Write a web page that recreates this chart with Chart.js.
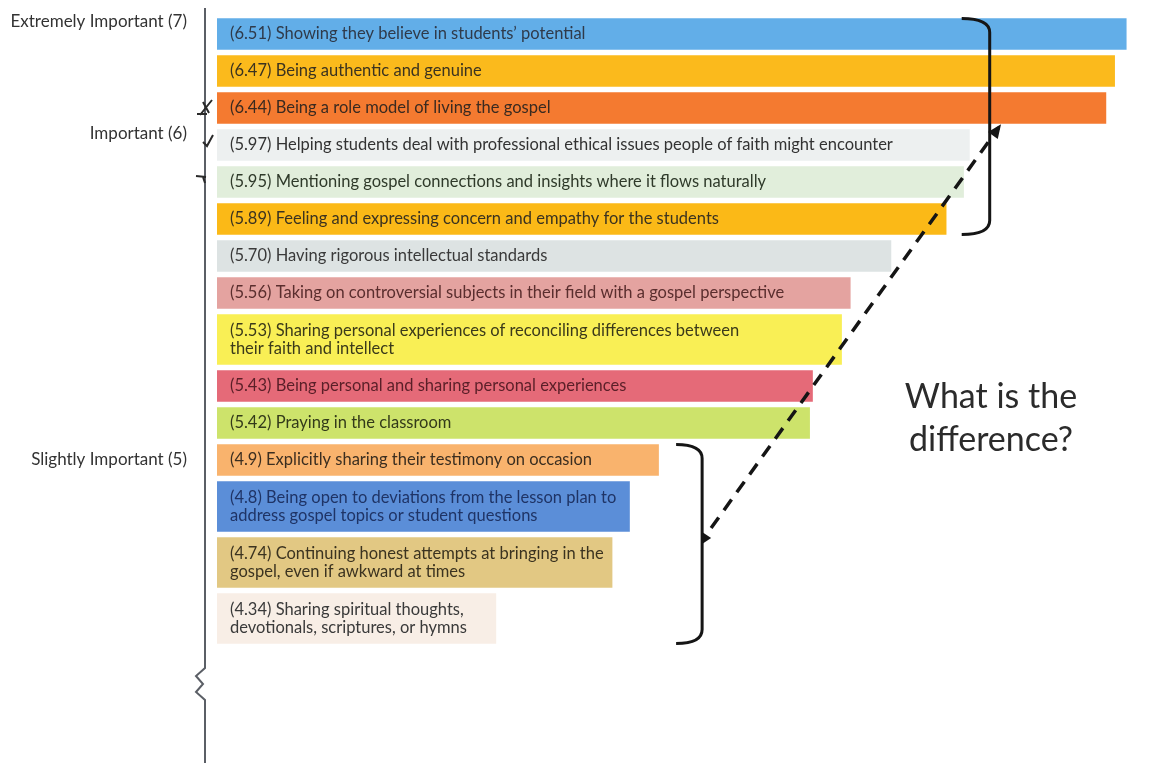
<!DOCTYPE html>
<html>
<head>
<meta charset="utf-8">
<script src="https://cdn.jsdelivr.net/npm/chart.js"></script>
<style>
  html, body { margin: 0; padding: 0; background: #fff; }
  #wrap { width: 1164px; height: 763px; }
</style>
</head>
<body>
<div id="wrap"><canvas id="myChart" width="1164" height="763"></canvas></div>
<script>
// text shown inside each bar (one entry per line)
var items = [
  ['(6.51) Showing they believe in students\u2019 potential'],
  ['(6.47) Being authentic and genuine'],
  ['(6.44) Being a role model of living the gospel'],
  ['(5.97) Helping students deal with professional ethical issues people of faith might encounter'],
  ['(5.95) Mentioning gospel connections and insights where it flows naturally'],
  ['(5.89) Feeling and expressing concern and empathy for the students'],
  ['(5.70) Having rigorous intellectual standards'],
  ['(5.56) Taking on controversial subjects in their field with a gospel perspective'],
  ['(5.53) Sharing personal experiences of reconciling differences between', 'their faith and intellect'],
  ['(5.43) Being personal and sharing personal experiences'],
  ['(5.42) Praying in the classroom'],
  ['(4.9) Explicitly sharing their testimony on occasion'],
  ['(4.8) Being open to deviations from the lesson plan to', 'address gospel topics or student questions'],
  ['(4.74) Continuing honest attempts at bringing in the', 'gospel, even if awkward at times'],
  ['(4.34) Sharing spiritual thoughts,', 'devotionals, scriptures, or hymns']
];
var scores = [6.51, 6.47, 6.44, 5.97, 5.95, 5.89, 5.70, 5.56, 5.53, 5.43, 5.42, 4.9, 4.8, 4.74, 4.34];
// importance levels on the left axis, and the row (bar index) they sit at
var levelNames = ['Extremely Important (7)', 'Important (6)', 'Slightly Important (5)'];
var levelRows = [-0.35, 2.7, 11];
var barColors = ['#62aee8', '#fbba1c', '#f47a30', '#edf0f0', '#e1eedb', '#fbb917', '#dde3e3', '#e4a3a0',
                 '#f9ef55', '#e56a78', '#cde36b', '#f9b36d', '#5b8ed8', '#e2c883', '#f8eee6'];
var textColors = ['#2f3a4a', '#3b3320', '#3a2a20', '#333333', '#2f3a2a', '#3b3320', '#3a3a3a', '#5a2e2e',
                  '#3b3a1a', '#5a1f28', '#333a1a', '#3b2e20', '#1f3466', '#3b3320', '#3a3a3a'];

var xMin = 3.38, xMax = 6.64;

// row layout: one-line rows are shorter than two-line rows
var slotOne = 37, slotExtra = 19;
var centers = [];
var acc = 0;
items.forEach(function(l) {
  var s = slotOne + slotExtra * (l.length - 1);
  centers.push(acc + s / 2);
  acc += s;
});
var total = acc;

function rowPos(r) {
  if (r <= 0) return centers[0] + r * slotOne;
  var a = Math.floor(r), b = Math.min(a + 1, centers.length - 1);
  return centers[a] + (r - a) * (centers[b] - centers[a]);
}
var levelPos = levelRows.map(rowPos);

function rowsWith(n) {
  var out = [];
  scores.forEach(function(v, i) {
    if (items[i].length === n) out.push({ x: v, y: centers[i], i: i });
  });
  return out;
}
var oneLine = rowsWith(1);
var twoLine = rowsWith(2);

var decor = {
  id: 'decor',
  afterDatasetsDraw: function(chart) {
    var c = chart.ctx;
    var area = chart.chartArea;
    var xs = chart.scales.x;
    var bars = [];
    chart.data.datasets.forEach(function(ds, d) {
      chart.getDatasetMeta(d).data.forEach(function(el, j) {
        bars[ds.data[j].i] = el;
      });
    });
    c.save();

    // vertical axis with a break
    var ax = area.left - 12;
    c.strokeStyle = '#5b5f66';
    c.lineWidth = 2;
    c.beginPath();
    c.moveTo(ax, 8);
    c.lineTo(ax, 668);
    c.lineTo(ax - 9, 676);
    c.lineTo(ax - 2, 684);
    c.lineTo(ax - 9, 692);
    c.lineTo(ax, 700);
    c.lineTo(ax, 763);
    c.stroke();

    // pen marks next to the axis
    c.strokeStyle = '#2a2a2a';
    c.lineWidth = 2;
    var m1 = bars[2].y, m2 = bars[3].y - 4, m3 = bars[4].y - 6;
    c.beginPath();
    c.moveTo(ax - 5, m1 + 7); c.lineTo(ax + 7, m1 - 8);
    c.moveTo(ax - 2, m1 - 6); c.lineTo(ax + 4, m1 + 5);
    c.moveTo(ax - 8, m1 + 6); c.lineTo(ax + 2, m1 + 6);
    c.moveTo(ax - 2, m2 + 1); c.lineTo(ax + 2, m2 + 5); c.lineTo(ax + 8, m2 - 6);
    c.moveTo(ax - 9, m3); c.lineTo(ax + 1, m3 + 1);
    c.moveTo(ax - 2, m3 + 1); c.lineTo(ax, m3 + 7);
    c.stroke();

    // text inside bars
    c.font = '16.5px Lato, "Open Sans", sans-serif';
    c.textAlign = 'left';
    c.textBaseline = 'middle';
    bars.forEach(function(bar, i) {
      var lines = items[i];
      var lh = 17.5;
      var y0 = bar.y - (lines.length - 1) * lh / 2;
      c.fillStyle = textColors[i];
      lines.forEach(function(t, k) {
        c.fillText(t, Math.max(bar.base, area.left) + 13, y0 + k * lh);
      });
    });

    // brackets
    function bracket(x, top, bottom, hook, tip) {
      c.strokeStyle = '#151515';
      c.lineWidth = 3;
      c.beginPath();
      c.moveTo(x - hook, top);
      c.quadraticCurveTo(x, top, x, top + 14);
      c.lineTo(x, bottom - 14);
      c.quadraticCurveTo(x, bottom, x - hook, bottom);
      c.stroke();
      if (tip) {
        var my = top + (bottom - top) * 0.47;
        c.fillStyle = '#151515';
        c.beginPath();
        c.moveTo(x, my - 6);
        c.lineTo(x + 9, my);
        c.lineTo(x, my + 6);
        c.closePath();
        c.fill();
      }
    }
    var topX = xs.getPixelForValue(6.04);
    var t0 = bars[0].y - bars[0].height / 2;
    var t1 = bars[5].y + bars[5].height / 2;
    bracket(topX, t0, t1, 28, false);
    var botX = xs.getPixelForValue(5.05);
    var b0 = bars[11].y - bars[11].height / 2;
    var b1 = bars[14].y + bars[14].height / 2;
    bracket(botX, b0, b1, 26, true);

    // dashed arrow
    var sx = botX + 9, sy = b0 + (b1 - b0) * 0.47 - 10;
    var ex = topX + 9, ey = bars[3].y - bars[3].height / 2 - 2;
    c.strokeStyle = '#151515';
    c.lineWidth = 3.5;
    c.setLineDash([13, 9]);
    c.beginPath();
    c.moveTo(sx, sy);
    c.lineTo(ex, ey);
    c.stroke();
    c.setLineDash([]);
    var ang = Math.atan2(ey - sy, ex - sx);
    var co = Math.cos(ang), si = Math.sin(ang);
    c.fillStyle = '#151515';
    c.beginPath();
    c.moveTo(ex + 4 * co, ey + 4 * si);
    c.lineTo(ex - 10 * co + 6 * si, ey - 10 * si - 6 * co);
    c.lineTo(ex - 10 * co - 6 * si, ey - 10 * si + 6 * co);
    c.closePath();
    c.fill();

    // question
    c.fillStyle = '#2b2b2b';
    c.font = '34px Lato, "Open Sans", sans-serif';
    c.textAlign = 'center';
    c.textBaseline = 'middle';
    var qx = area.right - 173;
    var qy = bars[10].y;
    c.fillText('What is the', qx, qy - 26);
    c.fillText('difference?', qx, qy + 17);

    c.restore();
  }
};

var ctx = document.getElementById('myChart').getContext('2d');

var myChart = new Chart(ctx, {
  type: 'bar',
  data: {
    datasets: [{
      data: oneLine,
      backgroundColor: oneLine.map(function(p) { return barColors[p.i]; }),
      barThickness: 31,
      grouped: false,
      base: xMin,
      borderWidth: 0
    }, {
      data: twoLine,
      backgroundColor: twoLine.map(function(p) { return barColors[p.i]; }),
      barThickness: 50,
      grouped: false,
      base: xMin,
      borderWidth: 0
    }]
  },
  options: {
    indexAxis: 'y',
    responsive: false,
    animation: false,
    layout: { padding: { top: 15.5, bottom: 116.5, left: 0, right: 0 } },
    plugins: {
      legend: { display: false },
      tooltip: { enabled: false }
    },
    scales: {
      x: { display: false, min: xMin, max: xMax },
      y: {
        type: 'linear',
        offset: false,
        reverse: true,
        min: 0,
        max: total,
        afterBuildTicks: function(s) {
          s.ticks = levelPos.map(function(v) { return { value: v }; });
        },
        afterFit: function(s) {
          s.width = 217;
          s.paddingTop = 0;
          s.paddingBottom = 0;
        },
        grid: { display: false },
        border: { display: false },
        ticks: {
          padding: 22,
          color: '#333',
          font: { family: 'Lato, "Open Sans", sans-serif', size: 17 },
          callback: function(v, i) { return levelNames[i]; }
        }
      }
    }
  },
  plugins: [decor]
});
</script>
</body>
</html>
